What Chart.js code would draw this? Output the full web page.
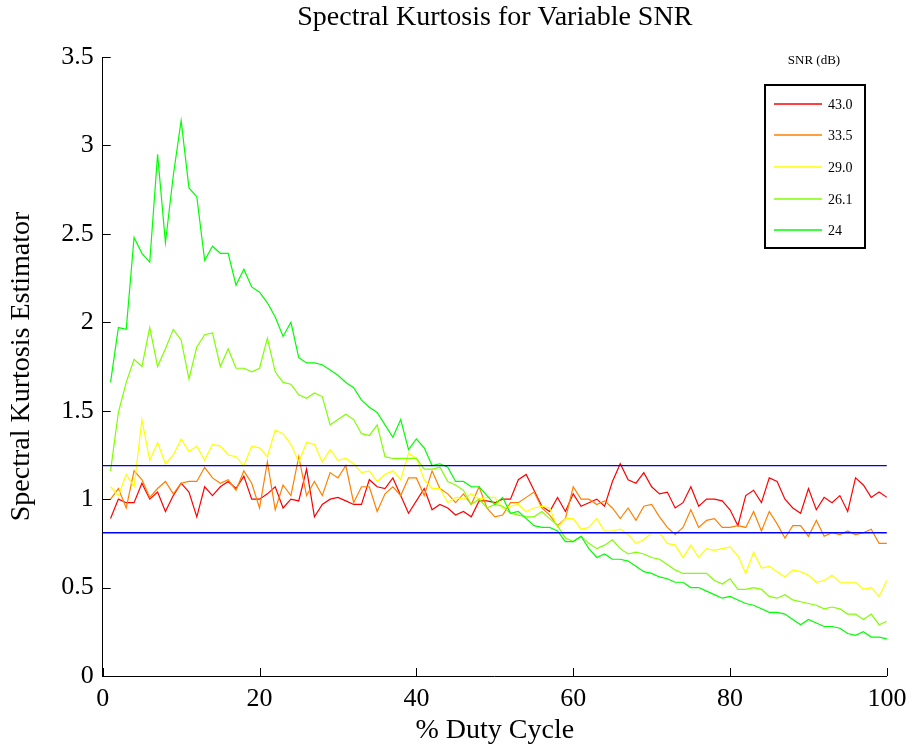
<!DOCTYPE html>
<html>
<head>
<meta charset="utf-8">
<script src="https://cdn.jsdelivr.net/npm/chart.js@4.4.1/dist/chart.umd.min.js"></script>
<style>
html,body{margin:0;padding:0;background:#fff;overflow:hidden}
canvas{display:block}
</style>
</head>
<body>
<canvas id="c" width="914" height="747"></canvas>
<script>
// ---- data ----
const dutyCycle = [1,2,3,4,5,6,7,8,9,10,11,12,13,14,15,16,17,18,19,20,21,22,23,24,25,26,27,28,29,30,31,32,33,34,35,36,37,38,39,40,41,42,43,44,45,46,47,48,49,50,51,52,53,54,55,56,57,58,59,60,61,62,63,64,65,66,67,68,69,70,71,72,73,74,75,76,77,78,79,80,81,82,83,84,85,86,87,88,89,90,91,92,93,94,95,96,97,98,99,100];

const snrLabels = ['43.0', '33.5', '29.0', '26.1', '24'];

const sk43 = [0.89,1.00,0.98,0.98,1.09,1.00,1.04,0.93,1.02,1.09,1.04,0.90,1.07,1.02,1.07,1.10,1.06,1.13,1.00,1.00,
1.03,1.07,0.95,1.00,0.99,1.17,0.90,0.97,1.00,1.01,0.99,0.97,0.97,1.11,1.07,1.06,1.12,1.02,0.92,0.99,
1.06,0.94,0.97,0.95,0.91,0.93,0.90,0.99,0.99,0.98,1.00,1.00,1.11,1.14,1.05,0.96,0.93,1.01,0.93,1.03,
0.96,0.98,1.00,0.96,1.10,1.20,1.11,1.09,1.15,1.07,1.03,1.04,0.95,0.98,1.07,0.96,1.00,1.00,0.99,0.94,
0.85,1.02,1.05,0.98,1.12,1.10,1.00,0.95,0.92,1.06,0.94,1.01,0.98,1.02,0.93,1.12,1.08,1.01,1.04,1.01];

const sk33 = [1.00,1.06,0.95,1.16,1.11,1.01,1.06,1.10,1.03,1.09,1.10,1.10,1.18,1.12,1.09,1.11,1.05,1.16,1.09,0.95,
1.21,0.94,1.08,1.02,1.24,1.02,1.10,1.02,1.15,1.12,1.19,0.98,1.07,1.07,0.93,1.03,1.07,1.02,1.12,1.12,
1.02,1.16,1.06,1.03,0.98,1.03,0.97,1.07,0.95,0.90,0.91,0.98,0.98,1.01,1.04,0.95,0.91,0.85,0.89,1.07,
1.00,1.00,0.97,0.99,0.95,0.89,0.95,0.88,0.96,0.97,0.90,0.84,0.80,0.84,0.94,0.84,0.88,0.89,0.84,0.84,
0.85,0.84,0.93,0.82,0.93,0.86,0.78,0.85,0.85,0.79,0.88,0.79,0.81,0.80,0.82,0.80,0.81,0.83,0.75,0.75];

const sk29 = [1.07,1.02,1.14,1.07,1.45,1.22,1.32,1.20,1.25,1.34,1.27,1.30,1.22,1.31,1.30,1.25,1.24,1.19,1.30,1.29,
1.24,1.39,1.37,1.31,1.21,1.32,1.31,1.21,1.28,1.22,1.23,1.20,1.15,1.16,1.10,1.14,1.16,1.11,1.26,1.23,
1.11,1.06,1.06,0.98,1.01,1.00,1.03,1.00,1.01,1.01,0.95,0.96,0.97,0.93,0.95,0.96,0.95,0.84,0.89,0.89,
0.83,0.84,0.89,0.82,0.82,0.83,0.80,0.75,0.77,0.81,0.81,0.75,0.74,0.67,0.74,0.67,0.72,0.71,0.72,0.73,
0.68,0.58,0.70,0.61,0.62,0.59,0.56,0.60,0.59,0.57,0.53,0.54,0.57,0.53,0.53,0.53,0.49,0.50,0.45,0.54];

const sk26 = [1.16,1.49,1.66,1.79,1.75,1.97,1.75,1.85,1.96,1.90,1.68,1.86,1.93,1.94,1.75,1.85,1.74,1.74,1.72,1.74,
1.91,1.72,1.66,1.65,1.59,1.57,1.60,1.58,1.42,1.45,1.48,1.45,1.37,1.36,1.42,1.24,1.23,1.23,1.23,1.23,
1.17,1.17,1.18,1.10,1.08,1.05,0.97,1.00,0.95,0.97,0.96,0.92,0.91,0.90,0.90,0.93,0.89,0.85,0.78,0.76,
0.79,0.75,0.72,0.74,0.77,0.72,0.69,0.70,0.69,0.67,0.66,0.63,0.60,0.58,0.58,0.58,0.58,0.54,0.52,0.55,
0.49,0.49,0.50,0.49,0.45,0.44,0.46,0.43,0.42,0.41,0.40,0.38,0.39,0.38,0.35,0.35,0.32,0.35,0.29,0.31];

const sk24 = [1.66,1.97,1.96,2.48,2.39,2.34,2.95,2.45,2.83,3.14,2.76,2.71,2.35,2.43,2.39,2.39,2.21,2.30,2.20,2.17,
2.11,2.03,1.92,2.00,1.80,1.77,1.77,1.76,1.73,1.70,1.66,1.63,1.56,1.52,1.49,1.42,1.35,1.45,1.28,1.34,
1.29,1.19,1.20,1.18,1.10,1.10,1.07,1.07,1.02,0.97,1.01,0.92,0.93,0.89,0.85,0.84,0.84,0.82,0.76,0.76,
0.79,0.72,0.67,0.69,0.66,0.66,0.65,0.62,0.59,0.58,0.56,0.55,0.53,0.53,0.50,0.50,0.48,0.46,0.44,0.45,
0.43,0.41,0.40,0.38,0.36,0.36,0.35,0.32,0.29,0.32,0.30,0.28,0.28,0.27,0.24,0.23,0.25,0.22,0.22,0.21];

const thresholdUpper = 1.19;
const thresholdLower = 0.81;
const thresholdRange = [0, 100];

const xTickStep = 20;
const yTickStep = 0.5;

// ---- styles ----
const seriesColors = ['#ff0000', '#ff8000', '#ffff00', '#80ff00', '#00ff00'];
const FONT = '"Liberation Serif", "Times New Roman", serif';

const seriesValues = [sk43, sk33, sk29, sk26, sk24];
const toPoints = vals => dutyCycle.map((d, i) => ({x: d, y: vals[i]}));

const datasets = seriesValues.map((vals, i) => ({
  label: snrLabels[i],
  data: toPoints(vals),
  borderColor: seriesColors[i],
  backgroundColor: seriesColors[i],
  borderWidth: 1.2,
  pointRadius: 0,
  tension: 0,
  fill: false,
  order: 5 - i
}));
[thresholdUpper, thresholdLower].forEach(v => {
  datasets.push({
    label: '_threshold',
    data: thresholdRange.map(x => ({x: x, y: v})),
    borderColor: '#0000ff',
    borderWidth: 1.3,
    pointRadius: 0,
    tension: 0,
    fill: false,
    order: 0
  });
});

const inwardTicks = {
  id: 'inwardTicks',
  afterDraw(chart) {
    const {ctx, chartArea: a, scales: {x, y}} = chart;
    ctx.save();
    ctx.strokeStyle = '#000';
    ctx.lineWidth = 1;
    ctx.beginPath();
    x.ticks.forEach(t => {
      const px = Math.round(x.getPixelForValue(t.value)) + 0.5;
      ctx.moveTo(px, a.bottom);
      ctx.lineTo(px, a.bottom - 8);
    });
    y.ticks.forEach(t => {
      const py = Math.round(y.getPixelForValue(t.value)) + 0.5;
      ctx.moveTo(a.left, py);
      ctx.lineTo(a.left + 8, py);
    });
    ctx.stroke();
    ctx.restore();
  }
};

const boxLegend = {
  id: 'boxLegend',
  afterDraw(chart) {
    const ctx = chart.ctx;
    ctx.save();
    ctx.fillStyle = '#000';
    ctx.font = '13px ' + FONT;
    ctx.textAlign = 'center';
    ctx.textBaseline = 'middle';
    ctx.fillText('SNR (dB)', 814, 61);
    ctx.strokeStyle = '#000';
    ctx.lineWidth = 2;
    ctx.strokeRect(765, 85, 100, 163);
    ctx.font = '14px ' + FONT;
    ctx.textAlign = 'left';
    const rows = chart.data.datasets.filter(d => d.label !== '_threshold');
    rows.forEach((d, i) => {
      const yy = Math.round(103.5 + i * 31.7);
      ctx.strokeStyle = d.borderColor;
      ctx.lineWidth = 1.5;
      ctx.beginPath();
      ctx.moveTo(774, yy);
      ctx.lineTo(822, yy);
      ctx.stroke();
      ctx.fillStyle = '#000';
      ctx.fillText(d.label, 828, yy + 1);
    });
    ctx.restore();
  }
};

Chart.defaults.font.family = FONT;
Chart.defaults.color = '#000';

new Chart(document.getElementById('c'), {
  type: 'line',
  data: {datasets: datasets},
  options: {
    responsive: false,
    animation: false,
    devicePixelRatio: 1,
    events: [],
    layout: {padding: {top: 0, left: 0, right: 25, bottom: 0}},
    plugins: {
      legend: {display: false},
      tooltip: {enabled: false},
      title: {
        display: true,
        text: 'Spectral Kurtosis for Variable SNR',
        fullSize: false,
        color: '#000',
        font: {family: FONT, size: 28, weight: 'normal'},
        padding: {top: 1.3, bottom: 22.1}
      }
    },
    scales: {
      x: {
        type: 'linear',
        min: 0, max: 100,
        grid: {display: false, drawTicks: false},
        border: {display: true, color: '#000', width: 1},
        ticks: {stepSize: xTickStep, padding: 7.6, maxRotation: 0, autoSkip: false,
                font: {family: FONT, size: 26}, color: '#000'},
        title: {display: true, text: '% Duty Cycle', color: '#000',
                font: {family: FONT, size: 28}, padding: {top: 0, bottom: 0}},
        afterFit(scale) { scale.height = 71; }
      },
      y: {
        type: 'linear',
        min: 0, max: 3.5,
        grid: {display: false, drawTicks: false},
        border: {display: true, color: '#000', width: 1},
        ticks: {stepSize: yTickStep, padding: 9, autoSkip: false,
                font: {family: FONT, size: 26}, color: '#000',
                callback: v => String(Math.round(v * 10) / 10)},
        title: {display: true, text: 'Spectral Kurtosis Estimator', color: '#000',
                font: {family: FONT, size: 28}, padding: {top: 4.8, bottom: 0}},
        afterFit(scale) { scale.width = 102.7; }
      }
    }
  },
  plugins: [inwardTicks, boxLegend]
});
</script>
</body>
</html>
